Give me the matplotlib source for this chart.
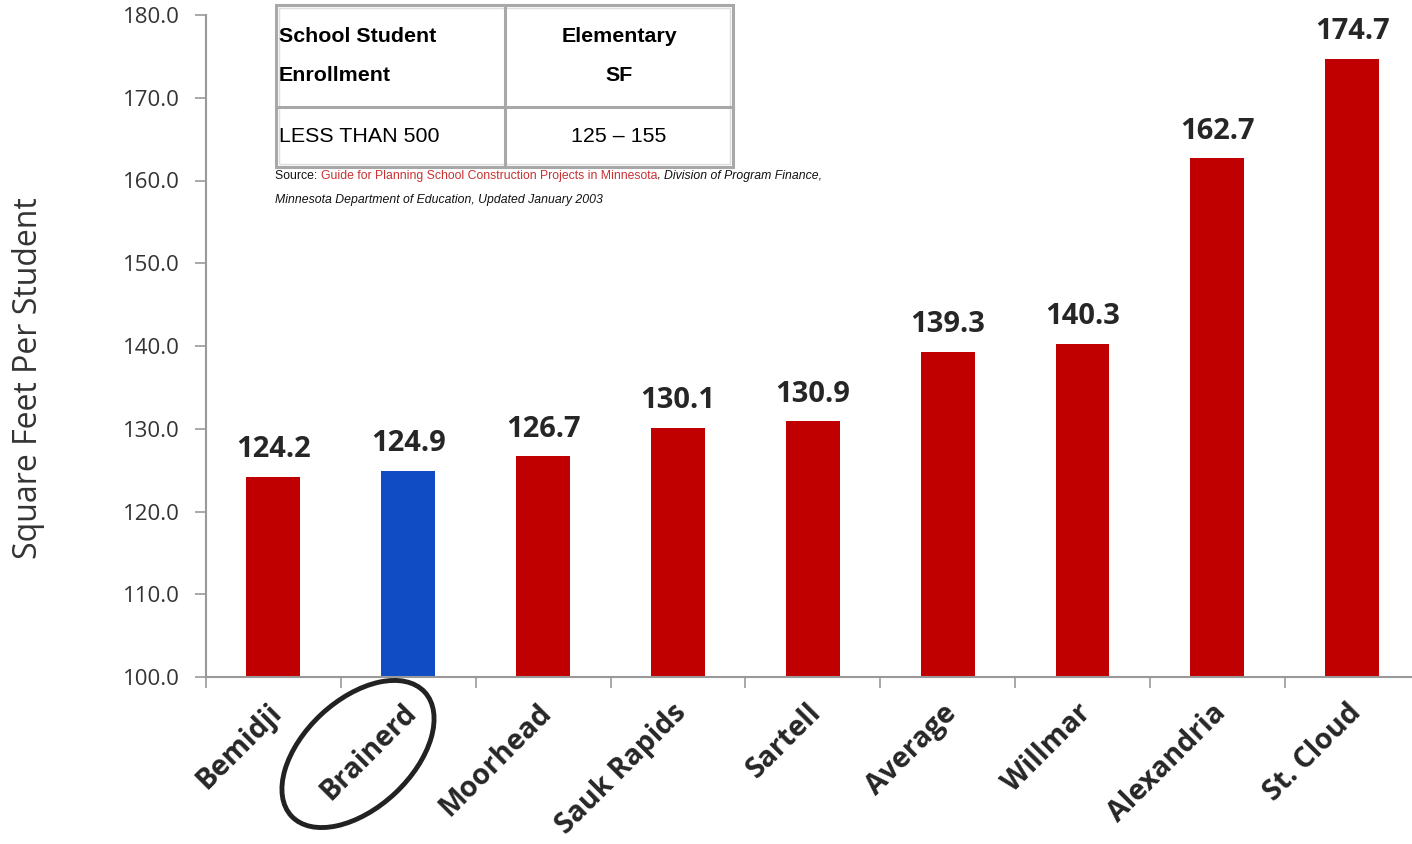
import matplotlib
matplotlib.use("Agg")
import matplotlib.pyplot as plt
from matplotlib.patches import Ellipse, Rectangle
import matplotlib.transforms as mtransforms
import numpy as np

# chart data
districts = ["Bemidji", "Brainerd", "Moorhead", "Sauk Rapids", "Sartell",
             "Average", "Willmar", "Alexandria", "St. Cloud"]
sq_ft_per_student = [124.2, 124.9, 126.7, 130.1, 130.9, 139.3, 140.3, 162.7, 174.7]
highlight = "Brainerd"
y_ticks = [100, 110, 120, 130, 140, 150, 160, 170, 180]

# guideline table in the corner
table_header = [["School Student\nEnrollment", "Elementary\nSF"]]
table_row = ["LESS THAN 500", "125 \u2013 155"]

RED = "#C00000"
BLUE = "#104CC4"
W, H = 1412, 844

plt.rcParams["font.family"] = ["Open Sans", "DejaVu Sans"]

fig = plt.figure(figsize=(W / 100, H / 100), dpi=100)
ax = fig.add_axes([206 / W, (H - 677) / H, 1 - 206 / W, (677 - 15) / H])

x = np.arange(len(districts))
colors = [BLUE if d == highlight else RED for d in districts]
bars = ax.bar(x, sq_ft_per_student, width=0.40, color=colors, zorder=2)

for bar, v in zip(bars, sq_ft_per_student):
    ax.annotate(f"{v:.1f}", (bar.get_x() + bar.get_width() / 2, v),
                xytext=(0, 9), textcoords="offset points",
                ha="center", va="bottom", fontsize=21, fontweight="bold",
                color="#262626")

ax.set_ylim(100, 180)
ax.set_xlim(-0.5, -0.5 + (W - 206) / 134.85)
ax.set_yticks(y_ticks)
ax.set_yticklabels([f"{t:.1f}" for t in y_ticks], fontsize=16, color="#333333")
ax.tick_params(axis="y", direction="out", length=8, width=1.2, color="#999999", pad=11)

ax.set_xticks(x)
ax.set_xticklabels(districts, rotation=45, ha="right", va="top",
                   rotation_mode="anchor", fontsize=20.5, fontweight="bold",
                   color="#262626")
ax.set_xticks(np.arange(len(districts)) - 0.5, minor=True)
ax.tick_params(axis="x", which="major", length=0, pad=14)
ax.tick_params(axis="x", which="minor", direction="out", length=8, width=1.2,
               color="#999999")
shift = mtransforms.ScaledTranslation(-6 / 100, -2 / 100, fig.dpi_scale_trans)
for lbl in ax.get_xticklabels():
    lbl.set_transform(lbl.get_transform() + shift)

for side in ("top", "right"):
    ax.spines[side].set_visible(False)
for side in ("left", "bottom"):
    ax.spines[side].set_color("#999999")
    ax.spines[side].set_linewidth(1.5)

fig.text(29 / W, 1 - 378 / H, "Square Feet Per Student", rotation=90,
         ha="center", va="center", fontsize=23, color="#333333")

# overlay in pixel coordinates for the table, source note and the circle
ov = fig.add_axes([0, 0, 1, 1], zorder=5)
ov.set_xlim(0, W)
ov.set_ylim(H, 0)
ov.axis("off")
ov.patch.set_alpha(0)

tx0, tx1, txm = 276, 733, 505
ty0, ty1, tym = 5, 167, 107
ov.add_patch(Rectangle((tx0, ty0), tx1 - tx0, ty1 - ty0, facecolor="white",
                       edgecolor="#A8A8A8", lw=2.2, zorder=1))
ov.add_patch(Rectangle((tx0 + 3, ty0 + 3), tx1 - tx0 - 6, ty1 - ty0 - 6,
                       facecolor="none", edgecolor="#DDDDDD", lw=1, zorder=1))
ov.plot([txm, txm], [ty0, ty1], color="#A8A8A8", lw=2.2, zorder=2)
ov.plot([tx0, tx1], [tym, tym], color="#A8A8A8", lw=2.2, zorder=2)

tfont = ["Liberation Sans", "DejaVu Sans"]
ov.text(tx0 + 3, 56, table_header[0][0], ha="left", va="center", fontsize=15.4,
        fontweight="bold", family=tfont, linespacing=2.35, zorder=3)
ov.text((txm + tx1) / 2, 56, table_header[0][1], ha="center", va="center",
        fontsize=15.4, fontweight="bold", family=tfont, linespacing=2.35, zorder=3)
ov.text(tx0 + 3, 137, table_row[0], ha="left", va="center", fontsize=15.4,
        family=tfont, zorder=3)
ov.text((txm + tx1) / 2, 137, table_row[1], ha="center", va="center",
        fontsize=15.4, family=tfont, zorder=3)

# source note, pieces placed one after another
fig.canvas.draw()
renderer = fig.canvas.get_renderer()
pieces = [("Source: ", "#111111", "normal"),
          ("Guide for Planning School Construction Projects in Minnesota", "#C83232", "normal"),
          (", ", "#111111", "normal"),
          ("Division of Program Finance,", "#111111", "italic")]
cur = 275
for txt, col, sty in pieces:
    t = ov.text(cur, 176, txt, ha="left", va="center", fontsize=8.8,
                family=tfont, color=col, style=sty, zorder=3)
    bb = t.get_window_extent(renderer)
    cur += bb.width
ov.text(275, 200, "Minnesota Department of Education, Updated January 2003",
        ha="left", va="center", fontsize=8.8, family=tfont, style="italic",
        color="#111111", zorder=3)

ov.add_patch(Ellipse((358, 754), 182, 108, angle=-43, facecolor="none",
                     edgecolor="#222222", lw=3.5, zorder=3))

fig.savefig("out.png", dpi=100)
